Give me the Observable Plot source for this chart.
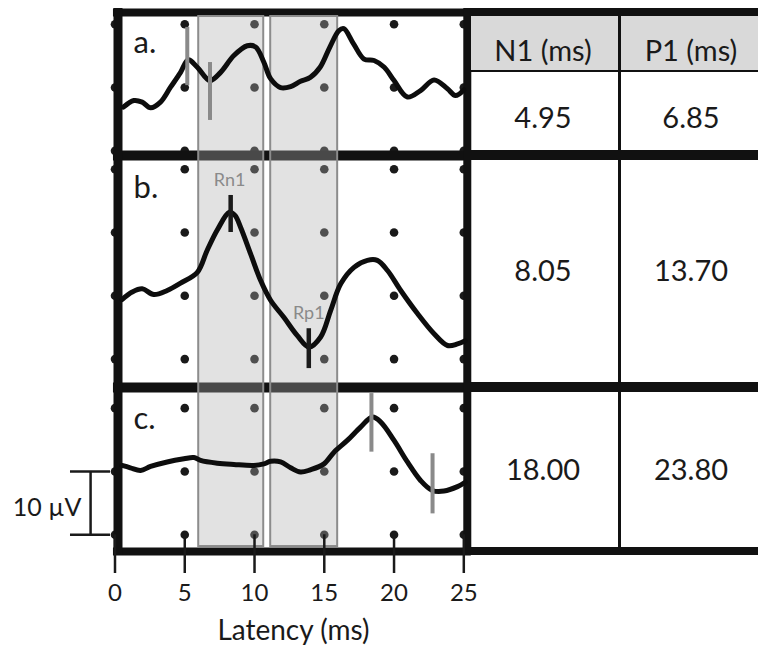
<!DOCTYPE html>
<html><head><meta charset="utf-8">
<script src="https://cdn.jsdelivr.net/npm/d3@7"></script>
<script src="https://cdn.jsdelivr.net/npm/@observablehq/plot@0.6"></script>
<style>
html,body{margin:0;padding:0;background:#fff;}
#wrap{position:relative;width:758px;height:661px;overflow:hidden;font-family:Lato,"Open Sans",sans-serif;color:#1a1a1a;}
#wrap svg{position:absolute;left:0;top:0;}
.tb{position:absolute;background:#111;}
.tt{position:absolute;font-size:29px;line-height:29px;text-align:center;white-space:nowrap;}
</style></head><body><div id="wrap"></div>
<script>
// ---------- data ----------
const latencyTicks = [0, 5, 10, 15, 20, 25];
const panelLabels = ["a.", "b.", "c."];
const tableHeaders = ["N1 (ms)", "P1 (ms)"];
const n1Latency = ["4.95", "8.05", "18.00"];
const p1Latency = ["6.85", "13.70", "23.80"];
const analysisWindows = [[6.0, 10.66], [11.16, 15.96]];   // ms
const scaleBarUV = 10;
const scaleBarLabel = "10 µV";
const axisLabel = "Latency (ms)";

// waveforms: [latency ms, amplitude µV (plotted upward)]
const waveA = [[0.6,-3.1],[1.35,-2.05],[1.95,-2.3],[2.55,-3.2],[3.26,-2.3],[3.98,0.05],[4.7,2.4],[5.25,4.4],[5.9,3.2],[6.8,1.1],[7.57,2.4],[8.52,5.05],[9.48,6.6],[10.08,6.4],[10.67,4.0],[11.15,1.4],[11.87,0],[12.59,0.16],[13.3,1.0],[14.0,1.6],[14.7,3.2],[15.4,6.4],[16.05,9.0],[16.4,9.3],[17.1,6.9],[17.85,4.5],[18.57,4.27],[19.3,3.2],[20.0,1.1],[20.96,-1.5],[21.9,-0.47],[22.87,1.2],[23.83,-0.2],[24.4,-1.26],[25.0,-0.37]];
const waveB = [[0.5,-10.6],[1.23,-9.4],[1.95,-8.9],[2.78,-9.8],[3.74,-9.16],[4.7,-8.0],[5.9,-6.3],[6.6,-2.84],[7.33,0.4],[8.2,3.2],[8.6,2.7],[9.0,0.84],[9.72,-3.37],[10.44,-7.6],[11.15,-10.7],[12.1,-13.4],[13.07,-16.3],[13.9,-18.1],[14.74,-16.5],[15.46,-12.3],[16.18,-8.1],[17.13,-5.5],[18.09,-4.4],[18.8,-4.4],[19.53,-6.0],[20.48,-9.16],[21.68,-12.8],[22.87,-16.0],[23.83,-17.85],[24.55,-17.6],[25.1,-17.1]];
const waveC = [[0.5,0.95],[1.1,0.58],[1.83,0.16],[2.55,0.79],[3.74,1.5],[4.94,2.0],[5.65,2.2],[6.13,1.74],[7.33,1.3],[8.52,1.1],[9.96,0.95],[10.67,1.2],[11.15,1.6],[11.87,1.5],[12.59,0.58],[13.3,-0.1],[14.0,0.26],[14.98,1.2],[15.7,3.05],[16.65,4.9],[17.6,7.0],[18.45,8.6],[19.05,7.8],[20.0,4.9],[20.96,1.5],[21.9,-1.42],[22.74,-3.0],[23.58,-3.1],[24.55,-2.4],[25.1,-1.7]];

// peak markers: latency (ms), top and bottom of the marker (µV)
const markerLatA = [5.18, 6.81], markerTopA = [9.5, 3.95], markerBotA = [0.3, -5.2];
const markerLatB = [8.29, 13.89], markerTopB = [5.85, -15.2], markerBotB = [0, -21.5];
const markerLatC = [18.38, 22.76], markerTopC = [12.3, 2.8], markerBotC = [3.05, -6.7];
const markerNamesB = ["Rn1", "Rp1"];

// grid of reference dots (µV rows, relative to each trace's baseline)
const gridRowsA = [10, 0, -10];
const gridRowsB = [10, 0, -10, -20];
const gridRowsC = [10, 0, -10];

// ---------- layout (stacked µV coordinate for the three traces) ----------
const offset = {a: -13.75, b: -36.65, c: -74.4};
const yDomain = [-87.36, 0];
const borderY = [{y: -1.9, w: 8}, {y: -24.49, w: 10}, {y: -61.14, w: 10}, {y: -87.04, w: 8}];
const tickBottom = -90.52;

const waves = [["a", waveA], ["b", waveB], ["c", waveC]];
const lineData = waves.flatMap(([p, pts]) => pts.map(([t, v]) => ({p, t, y: offset[p] + v})));
const dotData = [["a", gridRowsA], ["b", gridRowsB], ["c", gridRowsC]]
  .flatMap(([p, rows]) => rows.flatMap(r => latencyTicks.map(t => ({t, y: offset[p] + r}))));
const mk = (p, lat, top, bot) => lat.map((t, i) => ({t, y1: offset[p] + top[i], y2: offset[p] + bot[i]}));
const grayMarkers = [...mk("a", markerLatA, markerTopA, markerBotA), ...mk("c", markerLatC, markerTopC, markerBotC)];
const blackMarkers = mk("b", markerLatB, markerTopB, markerBotB);
const markerLabels = markerNamesB.map((name, i) => ({name, t: markerLatB[i] - (i === 0 ? 0.08 : 0), y: offset.b + (i === 0 ? 8.2 : -12.8)}));
const panelLabelData = panelLabels.map((s, i) => ({s, y: offset["abc"[i]] + [7.1, 7.05, 8.3][i]}));

const plot = Plot.plot({
  width: 758, height: 661,
  marginLeft: 114.5, marginRight: 294.7, marginTop: 0, marginBottom: 108,
  style: {fontFamily: "Lato, 'Open Sans', sans-serif", fontSize: "22px", color: "#1a1a1a", background: "transparent", overflow: "visible"},
  x: {domain: [0, 25], axis: null},
  y: {domain: yDomain, axis: null},
  marks: [
    Plot.dot(dotData, {x: "t", y: "y", r: 4.3, fill: "#1a1a1a", stroke: "none"}),
    // frame
    Plot.ruleY(borderY, {y: "y", x1: () => -0.11, x2: () => 25.54, strokeWidth: d => d.w, stroke: "#111"}),
    Plot.ruleX([0.215], {y1: () => -1.26, y2: () => -87.68, strokeWidth: 9, stroke: "#111"}),
    Plot.ruleX([25.25], {y1: () => -1.26, y2: () => -87.68, strokeWidth: 8, stroke: "#111"}),
    // analysis windows
    Plot.rect(analysisWindows, {x1: d => d[0], x2: d => d[1], y1: () => -2.53, y2: () => -86.26,
      fill: "#b0b0b0", fillOpacity: 0.36, stroke: "#8c8c8c", strokeWidth: 2}),
    // latency ticks (from the last dot row through the frame to below it)
    Plot.ruleX(latencyTicks, {x: d => d, y1: () => offset.c - 10, y2: () => tickBottom, strokeWidth: 2.5, stroke: "#1a1a1a"}),
    Plot.text(latencyTicks, {x: d => d, frameAnchor: "bottom", dy: 47, text: d => String(d), fontSize: 24, fill: "#1a1a1a"}),
    // traces
    Plot.line(lineData, {x: "t", y: "y", z: "p", curve: "catmull-rom", stroke: "#0d0d0d", strokeWidth: 5, strokeLinejoin: "round", strokeLinecap: "round"}),
    Plot.ruleX(grayMarkers, {x: "t", y1: "y1", y2: "y2", stroke: "#8a8a8a", strokeWidth: 4}),
    Plot.ruleX(blackMarkers, {x: "t", y1: "y1", y2: "y2", stroke: "#1a1a1a", strokeWidth: 4.5}),
    Plot.text(markerLabels, {x: "t", y: "y", text: "name", fill: "#8a8a8a", fontSize: 18}),
    Plot.text(panelLabelData, {x: () => 1.33, y: "y", text: "s", textAnchor: "start", fontSize: 31, fill: "#1a1a1a"}),
    // scale bar
    Plot.ruleX([-1.75], {y1: () => offset.c, y2: () => offset.c - scaleBarUV, strokeWidth: 2.5, stroke: "#1a1a1a"}),
    Plot.ruleY([offset.c, offset.c - scaleBarUV], {x1: () => -3.19, x2: () => -0.32, strokeWidth: 2.5, stroke: "#1a1a1a"}),
    Plot.text([scaleBarLabel], {x: () => -4.87, y: () => offset.c - 5.7, text: d => d, fontSize: 25, fill: "#1a1a1a"}),
    // axis title
    Plot.text([axisLabel], {frameAnchor: "bottom", dy: 86, dx: 4, text: d => d, fontSize: 28, fill: "#1a1a1a"})
  ]
});
const wrap = document.getElementById("wrap");
wrap.appendChild(plot);

// ---------- table ----------
function box(l, t, w, h, bg) { const d = document.createElement("div"); d.className = "tb"; Object.assign(d.style, {left: l + "px", top: t + "px", width: w + "px", height: h + "px"}); if (bg) d.style.background = bg; wrap.appendChild(d); }
function txt(s, cx, cy) { const d = document.createElement("div"); d.className = "tt"; d.textContent = s; Object.assign(d.style, {left: (cx - 70) + "px", width: "140px", top: (cy - 15.3) + "px"}); wrap.appendChild(d); }
box(471, 16, 291, 54, "#d9d9d9");
box(467, 8, 295, 8);
box(471, 70, 291, 2);
box(467, 150, 295, 10);
box(467, 382, 295, 10);
box(467, 547, 295, 8);
box(618, 16, 3, 531);
const colCx = [543, 691];
const rowCy = [117, 270, 469];
tableHeaders.forEach((h, i) => txt(h, colCx[i], 50));
n1Latency.forEach((v, i) => txt(v, colCx[0], rowCy[i]));
p1Latency.forEach((v, i) => txt(v, colCx[1], rowCy[i]));
</script></body></html>
